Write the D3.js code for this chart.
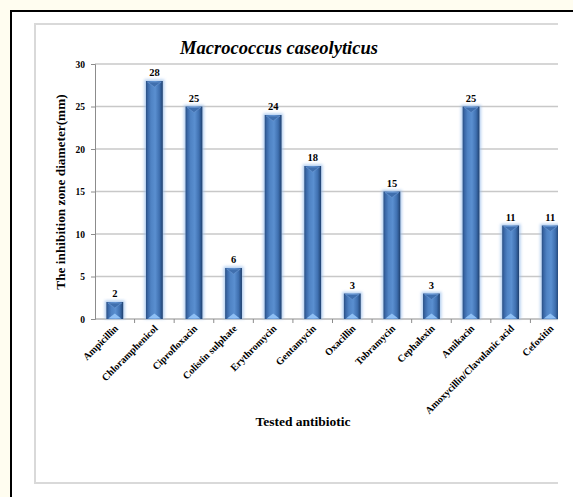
<!DOCTYPE html>
<html>
<head>
<meta charset="utf-8">
<script src="https://cdn.jsdelivr.net/npm/d3@7"></script>
<style>
  html, body { margin: 0; padding: 0; background: #fffdf0; overflow: hidden; }
  svg { display: block; }
  svg text { font-family: "Liberation Serif", "DejaVu Serif", serif !important; font-weight: bold; fill: #000; }
</style>
</head>
<body>
<script>
// Inhibition zone diameters (mm) per antibiotic
const antibiotics = [
  "Ampicillin", "Chloramphenicol", "Ciprofloxacin", "Colistin sulphate",
  "Erythromycin", "Gentamycin", "Oxacillin", "Tobramycin",
  "Cephalexin", "Amikacin", "Amoxycillin/Clavulanic acid", "Cefoxitin"
];
const zoneDiameters = [2, 28, 25, 6, 24, 18, 3, 15, 3, 25, 11, 11];
const yTicks = [0, 5, 10, 15, 20, 25, 30];

const W = 573, H = 497;
const svg = d3.select("body").append("svg").attr("width", W).attr("height", H);

const defs = svg.append("defs");
const grad = defs.append("linearGradient").attr("id", "barGrad")
  .attr("x1", "0%").attr("x2", "100%").attr("y1", "0%").attr("y2", "0%");
[[0, "#2a4f82"], [0.12, "#3a68a8"], [0.3, "#4f83c4"], [0.55, "#5a8fd0"], [0.8, "#3f70b0"], [0.92, "#2c548a"], [1, "#1f3f6c"]]
  .forEach(([o, c]) => grad.append("stop").attr("offset", o).attr("stop-color", c));
const glow = defs.append("filter").attr("id", "glow")
  .attr("x", "-50%").attr("y", "-10%").attr("width", "200%").attr("height", "120%");
glow.append("feGaussianBlur").attr("stdDeviation", 1.6);

// the figure is cut at its right edge
defs.append("clipPath").attr("id", "frameClip")
  .append("rect").attr("x", 0).attr("y", 0).attr("width", 558).attr("height", H);

// outer page frame
svg.append("rect").attr("x", 12).attr("y", 12).attr("width", W).attr("height", H)
  .attr("fill", "#ffffff");
svg.append("path").attr("d", `M11,${H + 5}L11,11L${W + 5},11`)
  .attr("fill", "none").attr("stroke", "#000").attr("stroke-width", 2);

// chart area border (open on the right)
svg.append("rect").attr("x", 35).attr("y", 24).attr("width", 523).attr("height", 459).attr("fill", "#fff");
svg.append("path").attr("d", "M558,24L35,24L35,483L558,483")
  .attr("fill", "none").attr("stroke", "#d9d9d9").attr("stroke-width", 2);

const plot = { left: 95, right: 570, top: 64, bottom: 319 };
const x = d3.scaleBand().domain(antibiotics).range([plot.left, plot.right]).paddingInner(0.575).paddingOuter(0.2875);
const y = d3.scaleLinear().domain([0, 30]).range([plot.bottom, plot.top]);

const g = svg.append("g").attr("clip-path", "url(#frameClip)");

// gridlines
g.append("g").selectAll("line").data(yTicks.filter(t => t > 0)).join("line")
  .attr("x1", plot.left).attr("x2", plot.right)
  .attr("y1", d => y(d)).attr("y2", d => y(d))
  .attr("stroke", "#c8c8c8").attr("stroke-width", 1.5);

// y axis
const yAxis = svg.append("g").attr("transform", `translate(${plot.left},0)`)
  .call(d3.axisLeft(y).tickValues(yTicks).tickSize(4).tickPadding(6));
yAxis.select(".domain").attr("stroke", "#8c8c8c");
yAxis.selectAll(".tick line").attr("stroke", "#8c8c8c");
yAxis.selectAll("text").attr("font-size", 9.5);

// x axis baseline with category separators
const xAxisG = g.append("g").attr("transform", `translate(0,${plot.bottom})`);
xAxisG.append("line").attr("x1", plot.left).attr("x2", plot.right).attr("stroke", "#8c8c8c");
xAxisG.selectAll(".sep").data(antibiotics).join("line")
  .attr("x1", (d, i) => plot.left + (i + 1) * x.step()).attr("x2", (d, i) => plot.left + (i + 1) * x.step())
  .attr("y1", 0).attr("y2", 4).attr("stroke", "#8c8c8c");

// bars
const bars = g.append("g").selectAll("g").data(antibiotics).join("g");
bars.append("rect")
  .attr("x", d => x(d) - 1.5).attr("width", x.bandwidth() + 3)
  .attr("y", (d, i) => y(zoneDiameters[i]) - 1.5)
  .attr("height", (d, i) => y(0) - y(zoneDiameters[i]) + 1.5)
  .attr("fill", "#9cc0ec").attr("opacity", 0.8).attr("filter", "url(#glow)");
bars.append("rect")
  .attr("x", d => x(d)).attr("width", x.bandwidth())
  .attr("y", (d, i) => y(zoneDiameters[i]))
  .attr("height", (d, i) => y(0) - y(zoneDiameters[i]))
  .attr("fill", "url(#barGrad)");
// top bevel
bars.append("path")
  .attr("d", (d, i) => {
    const x0 = x(d) + 1.5, x1 = x(d) + x.bandwidth() - 1.5, yt = y(zoneDiameters[i]) + 1;
    return `M${x0},${yt}L${x1},${yt}L${(x0 + x1) / 2},${yt + 5}Z`;
  })
  .attr("fill", "#3f6fae").attr("stroke", "#6f9ad4").attr("stroke-width", 0.6);
// bottom highlight
bars.append("path")
  .attr("d", d => {
    const x0 = x(d) + 2, x1 = x(d) + x.bandwidth() - 2, yb = y(0) - 0.5;
    return `M${x0},${yb}L${x1},${yb}L${(x0 + x1) / 2},${yb - 5}Z`;
  })
  .attr("fill", "#8fc0f5");

// value labels
g.append("g").selectAll("text").data(antibiotics).join("text")
  .attr("x", d => x(d) + x.bandwidth() / 2)
  .attr("y", (d, i) => y(zoneDiameters[i]) - 5)
  .attr("text-anchor", "middle").attr("font-size", 10.5)
  .text((d, i) => zoneDiameters[i]);

// category labels, rotated
g.append("g").selectAll("text").data(antibiotics).join("text")
  .attr("transform", d => `translate(${x(d) + x.bandwidth() / 2 + 4},${plot.bottom + 10}) rotate(-45)`)
  .attr("text-anchor", "end").attr("font-size", 10)
  .text(d => d);

// titles
svg.append("text").attr("x", 279).attr("y", 54).attr("text-anchor", "middle")
  .attr("font-size", 18.5).attr("font-style", "italic").text("Macrococcus caseolyticus");
svg.append("text").attr("x", 303).attr("y", 426).attr("text-anchor", "middle")
  .attr("font-size", 13.5).text("Tested antibiotic");
svg.append("text").attr("transform", "translate(65,192) rotate(-90)").attr("text-anchor", "middle")
  .attr("font-size", 13.3).text("The inhibition zone diameter(mm)");
</script>
</body>
</html>
